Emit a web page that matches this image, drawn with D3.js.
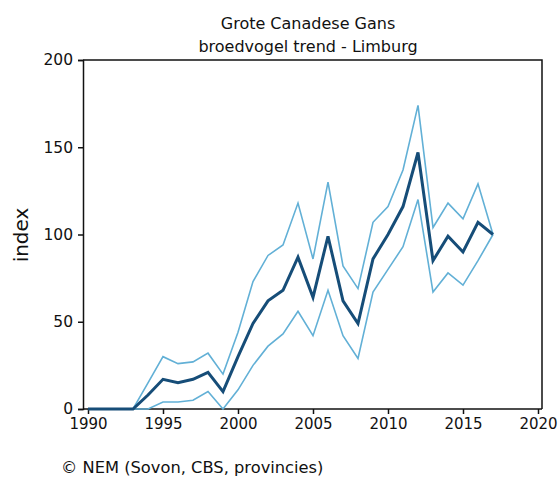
<!DOCTYPE html>
<html>
<head>
<meta charset="utf-8">
<script src="https://cdn.jsdelivr.net/npm/d3@7"></script>
<style>
  html, body { margin: 0; padding: 0; background: #fff; }
  svg text { font-family: Tahoma, "DejaVu Sans", Verdana, sans-serif; fill: #111; }
</style>
</head>
<body>
<svg id="chart" width="559" height="478"></svg>
<script>
// Breeding bird trend index, Grote Canadese Gans in Limburg (2017 = 100)
const years = d3.range(1990, 2018);
const indexValues = [0, 0, 0, 0, 8, 17, 15, 17, 21, 10, 30, 49, 62, 68, 87, 64, 99, 62, 49, 86, 100, 116, 147, 85, 99, 90, 107, 100];
const upperValues = [0, 0, 0, 0, 15, 30, 26, 27, 32, 20, 44, 73, 88, 94, 118, 86, 130, 82, 69, 107, 116, 137, 174, 104, 118, 109, 129, 100];
const lowerValues = [0, 0, 0, 0, 0, 4, 4, 5, 10, 0, 11, 25, 36, 43, 56, 42, 68, 42, 29, 67, 80, 93, 120, 67, 78, 71, 85, 100];
const xTicks = [1990, 1995, 2000, 2005, 2010, 2015, 2020];
const yTicks = [0, 50, 100, 150, 200];
const titleLines = ["Grote Canadese Gans", "broedvogel trend - Limburg"];
const yLabel = "index";
const sourceNote = "© NEM (Sovon, CBS, provincies)";

const svg = d3.select("#chart");
const frame = { left: 83, right: 542, top: 60, bottom: 409 };

const x = d3.scaleLinear().domain([1990, 2020]).range([88, 538]);
const y = d3.scaleLinear().domain([0, 200]).range([frame.bottom, frame.top]);

// plot frame (top and right edges)
svg.append("path")
  .attr("d", `M${frame.left},${frame.top}H${frame.right}V${frame.bottom}`)
  .attr("fill", "none").attr("stroke", "#111").attr("stroke-width", 1.5);

// y axis
const yAxis = svg.append("g").attr("transform", `translate(${frame.left},0)`)
  .call(d3.axisLeft(y).tickValues(yTicks).tickSize(5).tickPadding(5));
yAxis.select(".domain").attr("stroke", "#111").attr("stroke-width", 1.5);
yAxis.selectAll(".tick line").attr("stroke", "#111").attr("stroke-width", 1.5);
yAxis.selectAll("text").attr("font-size", 15.5).style("font-family", "Tahoma, 'DejaVu Sans', sans-serif");

// x axis
const xAxis = svg.append("g").attr("transform", `translate(0,${frame.bottom})`)
  .call(d3.axisBottom(x).tickValues(xTicks).tickFormat(d3.format("d")).tickSize(5).tickPadding(4));
xAxis.select(".domain").attr("d", `M${frame.left},0H${frame.right}`).attr("stroke", "#111").attr("stroke-width", 1.5);
xAxis.selectAll(".tick line").attr("stroke", "#111").attr("stroke-width", 1.5);
xAxis.selectAll("text").attr("font-size", 15).style("font-family", "Tahoma, 'DejaVu Sans', sans-serif");

// lines
const line = d3.line().x((d, i) => x(years[i])).y(d => y(d));
[upperValues, lowerValues].forEach(vals => {
  svg.append("path").datum(vals)
    .attr("d", line)
    .attr("fill", "none").attr("stroke", "#62b0d6").attr("stroke-width", 1.6)
    .attr("stroke-linejoin", "miter");
});
svg.append("path").datum(indexValues)
  .attr("d", line)
  .attr("fill", "none").attr("stroke", "#164d78").attr("stroke-width", 3)
  .attr("stroke-linejoin", "miter");

// titles
titleLines.forEach((t, i) => {
  svg.append("text").attr("x", 308).attr("y", 29 + i * 23)
    .attr("text-anchor", "middle").attr("font-size", 16).text(t);
});

// y label
svg.append("text")
  .attr("transform", "translate(28,235) rotate(-90)")
  .attr("text-anchor", "middle").attr("font-size", 20).text(yLabel);

// source
svg.append("text").attr("x", 61).attr("y", 473).attr("font-size", 16.3).text(sourceNote);
</script>
</body>
</html>
